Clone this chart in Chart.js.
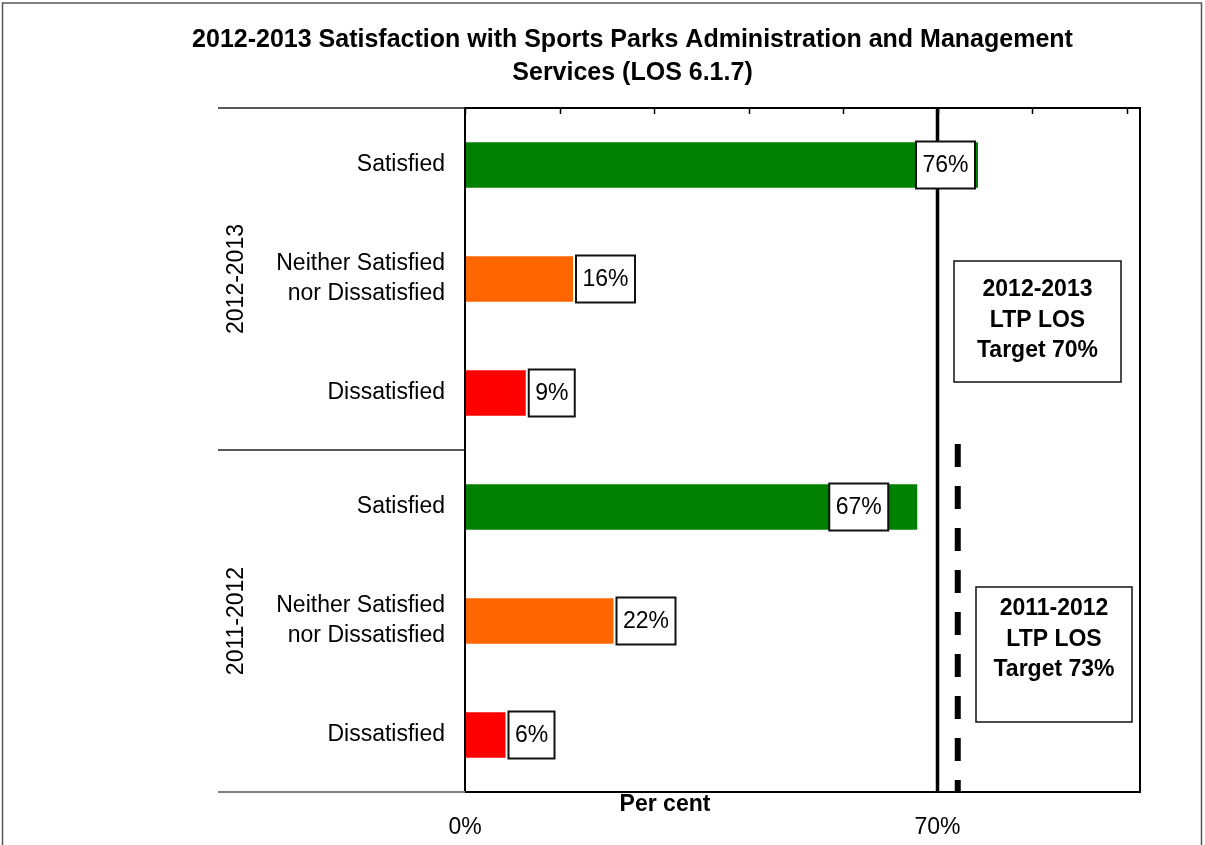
<!DOCTYPE html>
<html>
<head>
<meta charset="utf-8">
<title>Sports Parks Administration and Management satisfaction</title>
<script src="https://cdn.jsdelivr.net/npm/chart.js@4.4.0/dist/chart.umd.min.js"></script>
<style>
  html, body { margin: 0; padding: 0; background: #fff; }
</style>
</head>
<body>
<canvas id="losChart" width="1205" height="845"></canvas>
<script>
const FONT = "'Liberation Sans', Arial, Helvetica, sans-serif";

// survey results, two years of three answers each
const categories = [
  'Satisfied', ['Neither Satisfied', 'nor Dissatisfied'], 'Dissatisfied',
  'Satisfied', ['Neither Satisfied', 'nor Dissatisfied'], 'Dissatisfied'
];
const values = [76, 16, 9, 67, 22, 6];
const groups = ['2012-2013', '2011-2012'];
const targetValues = [70, 73];
const xTickValues = [0, 70];
const topTickStep = 14;

const barColours = ['#008000', '#FF6600', '#FF0000', '#008000', '#FF6600', '#FF0000'];

const decorations = {
  id: 'decorations',
  afterDatasetsDraw(chart, args, opts) {
    const { ctx, chartArea: a, scales: { x, y } } = chart;
    const rowH = y.getPixelForValue(1) - y.getPixelForValue(0);
    const groupTop = g => y.getPixelForValue(g * 3) - rowH / 2;
    ctx.save();

    // target lines: this year's runs the full height, last year's only its own block
    ctx.strokeStyle = '#000';
    ctx.lineWidth = 3.5;
    let tx = x.getPixelForValue(targetValues[0]);
    ctx.beginPath(); ctx.moveTo(tx, a.top); ctx.lineTo(tx, a.bottom); ctx.stroke();
    tx = x.getPixelForValue(targetValues[1]);
    ctx.lineWidth = 6;
    ctx.setLineDash([23, 19]);
    ctx.beginPath(); ctx.moveTo(tx, groupTop(1) - 6); ctx.lineTo(tx, a.bottom + 1); ctx.stroke();
    ctx.setLineDash([]);

    // plot frame and the small marks along its top edge
    ctx.lineWidth = 2;
    ctx.strokeRect(a.left, a.top, a.right - a.left, a.bottom - a.top);
    ctx.lineWidth = 1.5;
    for (let v = 0; v <= x.max; v += topTickStep) {
      const px = Math.round(x.getPixelForValue(v)) + 0.5;
      ctx.beginPath(); ctx.moveTo(px, a.top); ctx.lineTo(px, a.top + 6); ctx.stroke();
    }

    // group dividers to the left of the plot
    const divs = [a.top, groupTop(1), a.bottom];
    divs.forEach((dy, i) => {
      ctx.strokeStyle = i === divs.length - 1 ? '#808080' : '#222';
      ctx.lineWidth = i === divs.length - 1 ? 2 : 1.5;
      ctx.beginPath(); ctx.moveTo(opts.dividerLeft, dy); ctx.lineTo(a.left, dy); ctx.stroke();
    });

    // rotated year labels
    ctx.fillStyle = '#000';
    ctx.font = `23px ${FONT}`;
    ctx.textAlign = 'center';
    ctx.textBaseline = 'middle';
    groups.forEach((g, i) => {
      const cy = y.getPixelForValue(i * 3 + 1);
      ctx.save();
      ctx.translate(opts.groupLabelX, cy);
      ctx.rotate(-Math.PI / 2);
      ctx.fillText(g, 0, 0);
      ctx.restore();
    });

    // target notes
    opts.notes.forEach((n, i) => {
      ctx.fillStyle = '#fff';
      ctx.fillRect(n.x, n.y, n.w, n.h);
      ctx.strokeStyle = '#111';
      ctx.lineWidth = 1.5;
      ctx.strokeRect(n.x, n.y, n.w, n.h);
      ctx.fillStyle = '#000';
      ctx.font = `bold 23px ${FONT}`;
      const lines = [groups[i], 'LTP LOS', `Target ${targetValues[i]}%`];
      lines.forEach((t, k) => ctx.fillText(t, n.x + n.w / 2, n.textTop + k * 30.5));
    });

    // value labels in boxes at the bar ends
    const meta = chart.getDatasetMeta(0);
    ctx.font = `23px ${FONT}`;
    meta.data.forEach((bar, i) => {
      const txt = values[i] + '%';
      const w = Math.round(ctx.measureText(txt).width + 13);
      const h = 47;
      const inset = opts.insideLabels[i];
      const left = inset !== undefined ? bar.x - inset - w : bar.x + opts.outsideGap;
      const top = bar.y - h / 2;
      ctx.fillStyle = '#fff';
      ctx.fillRect(left, top, w, h);
      ctx.strokeStyle = '#111';
      ctx.lineWidth = 2;
      ctx.strokeRect(left, top, w, h);
      ctx.fillStyle = '#000';
      ctx.fillText(txt, left + w / 2, bar.y + 1);
    });

    // axis title sits between the axis line and the tick labels
    ctx.font = `bold 23px ${FONT}`;
    ctx.fillText('Per cent', a.left + 200, a.bottom + 13);

    ctx.restore();
  },
  afterDraw(chart) {
    const { ctx } = chart;
    ctx.save();
    ctx.strokeStyle = '#555';
    ctx.lineWidth = 1.5;
    ctx.strokeRect(2.5, 3, 1199, 900);
    ctx.restore();
  }
};

new Chart(document.getElementById('losChart'), {
  type: 'bar',
  data: {
    labels: categories,
    datasets: [{
      data: values,
      backgroundColor: barColours,
      borderWidth: 0,
      barPercentage: 0.4,
      categoryPercentage: 1
    }]
  },
  options: {
    indexAxis: 'y',
    responsive: false,
    animation: false,
    layout: { padding: { left: 60, right: 0, top: 0, bottom: 0 } },
    plugins: {
      legend: { display: false },
      tooltip: { enabled: false },
      title: {
        display: true,
        text: ['2012-2013 Satisfaction with Sports Parks Administration and Management', 'Services (LOS 6.1.7)'],
        color: '#000',
        font: { family: FONT, size: 25, weight: 'bold', lineHeight: 1.32 },
        padding: { top: 24, bottom: 18 }
      },
      decorations: {
        dividerLeft: 218,
        groupLabelX: 237,
        insideLabels: { 0: 3, 3: 29 },
        outsideGap: 3,
        notes: [
          { x: 954, y: 261, w: 167, h: 121, textTop: 290 },
          { x: 976, y: 587, w: 156, h: 135, textTop: 609 }
        ]
      }
    },
    scales: {
      x: {
        min: 0,
        max: 100,
        grid: { display: false, drawTicks: false },
        border: { display: false },
        afterBuildTicks(scale) { scale.ticks = xTickValues.map(value => ({ value })); },
        ticks: {
          autoSkip: false,
          maxRotation: 0,
          padding: 22,
          color: '#000',
          font: { family: FONT, size: 23 },
          callback: v => v + '%'
        },
        afterFit(scale) { scale.height = 53; }
      },
      y: {
        grid: { display: false, drawTicks: false },
        border: { display: false },
        ticks: {
          autoSkip: false,
          padding: 20,
          color: '#000',
          font: { family: FONT, size: 23, lineHeight: 1.3 }
        },
        afterFit(scale) { scale.width = 405; }
      },
      yRight: {
        type: 'linear',
        position: 'right',
        grid: { display: false, drawTicks: false },
        border: { display: false },
        ticks: { display: false },
        afterFit(scale) { scale.width = 65; }
      }
    }
  },
  plugins: [decorations]
});
</script>
</body>
</html>
